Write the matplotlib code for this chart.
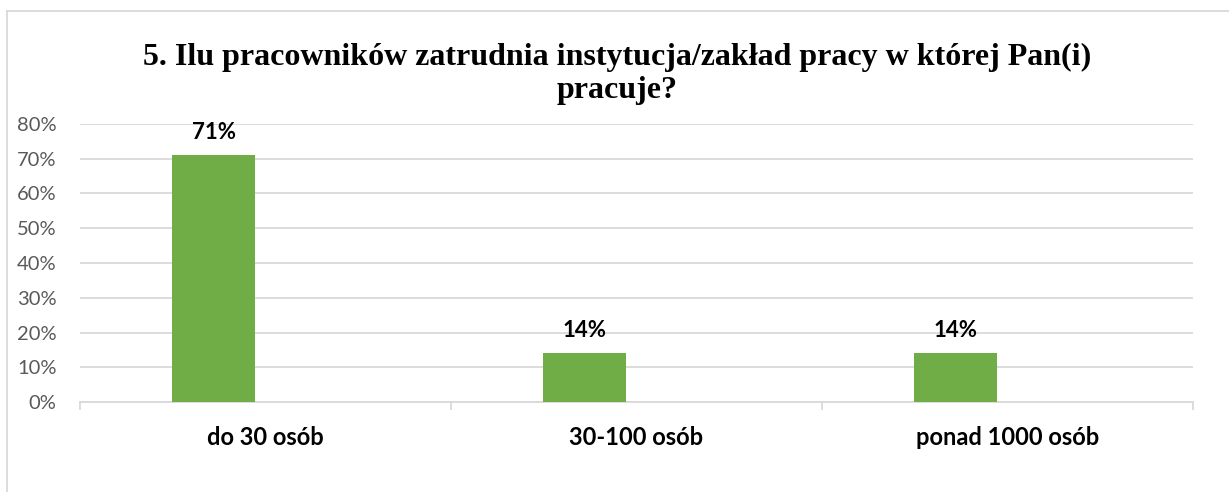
import matplotlib
matplotlib.use("Agg")
import matplotlib.pyplot as plt
from matplotlib.lines import Line2D
from matplotlib.ticker import FuncFormatter, MultipleLocator

categories = ["do 30 osób", "30-100 osób", "ponad 1000 osób"]
values = [0.71, 0.14, 0.14]
labels = ["71%", "14%", "14%"]
title = "5. Ilu pracowników zatrudnia instytucja/zakład pracy w której Pan(i)\npracuje?"

W, H = 1229, 492
fig = plt.figure(figsize=(W / 100, H / 100), dpi=100)
ax = fig.add_axes([80 / W, (H - 402) / H, (1193 - 80) / W, (402 - 124) / H])

green = "#70AD47"
grid = "#D9D9D9"
txt = "#595959"
sans = ["Lato", "DejaVu Sans"]

x = list(range(len(categories)))
offset = -0.14
bw = 0.223
ax.bar([i + offset for i in x], values, width=bw, color=green, zorder=3)
for i, v, lab in zip(x, values, labels):
    ax.annotate(lab, (i + offset, v), xytext=(0, 9), textcoords="offset points",
                ha="center", va="bottom", fontsize=16, fontweight="bold",
                family=sans, color="black")

ax.set_xlim(-0.5, len(categories) - 0.5)
ax.set_ylim(0, 0.8)
ax.yaxis.set_major_locator(MultipleLocator(0.1))
ax.yaxis.set_major_formatter(FuncFormatter(lambda v, p: f"{v * 100:.0f}%"))
ax.grid(axis="y", color=grid, linewidth=1.3, zorder=0)
for s in ["top", "right", "left"]:
    ax.spines[s].set_visible(False)
ax.spines["bottom"].set_color(grid)
ax.spines["bottom"].set_linewidth(1.3)
ax.tick_params(axis="y", length=0, pad=17, labelcolor=txt, labelsize=14.5)
for t in ax.get_yticklabels():
    t.set_family(sans)

# category boundary ticks
ax.set_xticks([i - 0.5 for i in range(len(categories) + 1)], minor=False)
ax.set_xticklabels([""] * (len(categories) + 1))
ax.tick_params(axis="x", which="major", length=6, color=grid, width=1.3)
ax.set_xticks(x, minor=True)
ax.set_xticklabels(categories, minor=True)
ax.tick_params(axis="x", which="minor", length=0, pad=17, labelsize=17)
for t in ax.get_xticklabels(minor=True):
    t.set_family(sans)
    t.set_fontweight("bold")

fig.text(617 / W, (H - 74) / H, title, ha="center", va="center",
         family=["Liberation Serif", "DejaVu Serif"], fontweight="bold",
         fontsize=23, linespacing=1.22)

# chart border (partially visible)
fig.add_artist(Line2D([7 / W, 7 / W], [0, (H - 11) / H], color=grid, lw=1.3, transform=fig.transFigure))
fig.add_artist(Line2D([7 / W, 1], [(H - 11) / H, (H - 11) / H], color=grid, lw=1.3, transform=fig.transFigure))

fig.savefig("out.png", dpi=100, facecolor="white")
